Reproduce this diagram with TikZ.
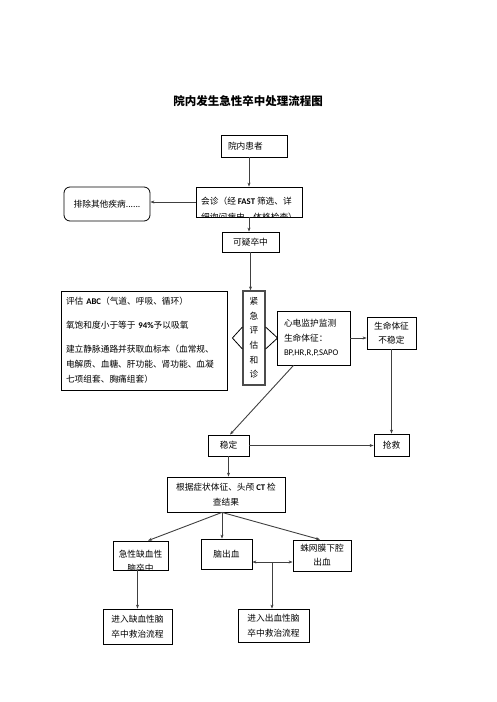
\documentclass[tikz,border=0pt]{standalone}
\usepackage{fontspec}
\setmainfont{Noto Sans CJK SC}
\newfontfamily\lat{Carlito}
\usetikzlibrary{arrows.meta}
\tikzstyle{kuang}=[draw=black,line width=0.8pt,inner xsep=4pt,inner ysep=2pt,align=center,font=\fontsize{8.7}{14.5}\selectfont]
\tikzstyle{wen}=[inner sep=0pt,font=\fontsize{8.7}{16}\selectfont]
\tikzstyle{liu}=[-{Stealth[length=4pt,width=3pt]},line width=0.9pt,draw=black!75]
\tikzstyle{jian}=[line width=0.8pt,draw=black]

\begin{document}
\begin{tikzpicture}[x=1pt,y=-1pt]
\useasboundingbox (0,0) rectangle (496,702);
\node[font=\fontsize{11.5}{14}\selectfont\bfseries] (title) at (248,101) {院内发生急性卒中处理流程图};

% top part
\node[kuang,inner xsep=7pt,text width=52pt,minimum height=22pt,align=left] (hz) at (254,146) {院内患者};
\node[kuang,minimum width=86pt,minimum height=34pt,rounded corners=6pt] (pc) at (107,204) {排除其他疾病......};
\node[kuang,minimum width=106pt,minimum height=30pt] (hz2) at (249,202) {};
\begin{scope}
\clip (hz2.south west) rectangle (hz2.north east);
\node[wen,anchor=west,align=left] at (201,209) {会诊（经 {\lat\bfseries FAST} 筛选、详\\细询问病史、体格检查）};
\end{scope}
\node[kuang,minimum width=57pt,minimum height=20pt] (kyi) at (250.5,242) {可疑卒中};

% middle part
\node[kuang,inner xsep=5pt,text width=156pt,minimum height=99pt,align=left,font=\fontsize{8.7}{15}\selectfont] (pg) at (144,340.5)
 {评估 {\lat\bfseries ABC}（气道、呼吸、循环）\\[9pt]氧饱和度小于等于 {\lat\bfseries 94\%}予以吸氧\\[9pt]建立静脉通路并获取血标本（血常规、\\电解质、血糖、肝功能、肾功能、血凝\\七项组套、胸痛组套）};
\node[kuang,draw=black!70,line width=1.2pt,fill=white,minimum width=22pt,minimum height=94pt,inner xsep=0pt,font=\fontsize{8.7}{14.6}\selectfont] (jj) at (254,338) {紧\\急\\评\\估\\和\\诊};
\draw[jian] ([yshift=11pt]jj.west) -- ++(-10,11) -- ++(10,11);
\draw[jian] ([yshift=11pt]jj.east) -- ++(12,11) -- ++(-12,11);
\node[kuang,inner xsep=7pt,text width=59pt,minimum height=54pt,align=left] (xd) at (313.5,338) {心电监护监测\\生命体征：\\{\lat BP,HR,R,P,SAPO}};
\node[kuang,minimum width=49pt,minimum height=32pt,inner xsep=2pt] (bwd) at (391.5,333) {生命体征\\不稳定};
\node[kuang,minimum width=35pt,minimum height=22pt] (qj) at (391.5,445) {抢救};
\node[kuang,minimum width=41pt,minimum height=21pt] (wd) at (228.5,445.5) {稳定};

% bottom part
\node[kuang,minimum width=118pt,minimum height=35pt] (gj) at (226,494.5) {根据症状体征、头颅 {\lat\bfseries CT} 检\\查结果};
\node[kuang,minimum width=55pt,minimum height=29pt] (qx) at (140.5,555.5) {};
\begin{scope}
\clip (qx.south west) rectangle (qx.north east);
\node[wen,align=center,font=\fontsize{8.7}{14}\selectfont] at (140.5,561) {急性缺血性\\脑卒中};
\end{scope}
\node[kuang,minimum width=51pt,minimum height=30pt] (nc) at (226.5,554) {脑出血};
\node[kuang,minimum width=58pt,minimum height=31pt,inner xsep=2pt,font=\fontsize{8.7}{14}\selectfont] (zw) at (322,555.5) {蛛网膜下腔\\出血};
\node[kuang,minimum width=69pt,minimum height=35pt] (jr1) at (137.5,626.5) {进入缺血性脑\\卒中救治流程};
\node[kuang,minimum width=71pt,minimum height=33pt] (jr2) at (273.5,625.5) {进入出血性脑\\卒中救治流程};

% arrows
\draw[liu] (hz2.north |- hz.south) -- (hz2.north);
\draw[liu] (hz2.west) -- (hz2.west -| pc.east);
\draw[liu] (hz2.south) -- (hz2.south |- kyi.north);
\draw[liu] (kyi.south) -- (kyi.south |- jj.north);
\draw[liu] (xd.east) -- (xd.east -| bwd.west);
\draw[liu] (bwd.south) -- (qj.north);
\draw[liu] ([xshift=-20pt]xd.south) -- ([xshift=1.5pt]wd.north);
\draw[liu] (wd.east) -- (wd.east -| qj.west);
\draw[liu] (wd.south) -- (wd.south |- gj.north);
\coordinate (fk) at ([xshift=-4pt]gj.south);
\draw[liu] (fk) -- ([xshift=7.5pt]qx.north);
\draw[liu] (fk) -- (fk |- nc.north);
\draw[liu] (fk) -- ([xshift=-2pt]zw.north);
\draw[liu,{Stealth[length=4pt,width=3pt]}-{Stealth[length=4pt,width=3pt]}] ([yshift=-8pt]nc.east) -- ([yshift=-8pt]nc.east -| zw.west);
\coordinate (mid) at (272,562);
\draw[liu] (mid) -- (mid |- jr2.north);
\draw[liu] (jr1.north |- qx.south) -- (jr1.north);
\end{tikzpicture}
\end{document}
